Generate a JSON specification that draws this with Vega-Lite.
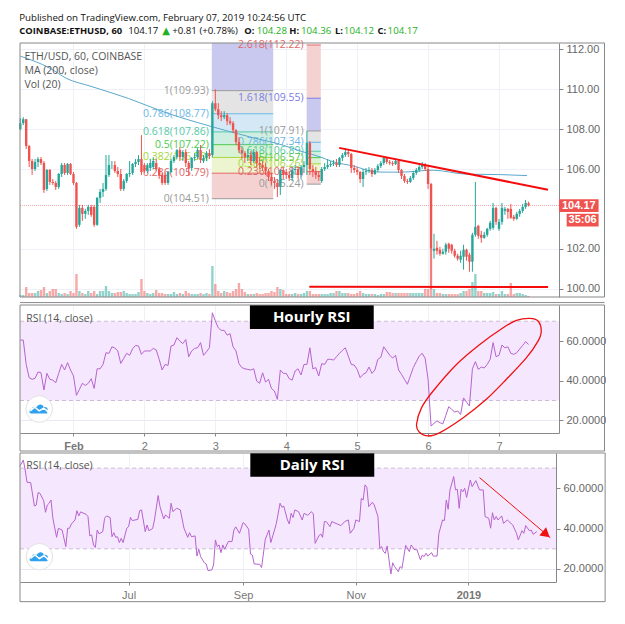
{"$schema":"https://vega.github.io/schema/vega-lite/v6.json","background":"white","padding":{"left":17,"top":13,"right":0,"bottom":0},"spacing":0,
"datasets":{"hourly":[
{"t":6,"o":108.0,"c":108.3,"h":108.55,"l":107.95,"v":2,"r":60.5},{"t":7,"o":108.3,"c":108.5,"h":108.6,"l":108.2,"v":2,"r":60.5},{"t":8,"o":108.5,"c":107.15,"h":108.5,"l":107.0,"v":10,"r":48.2},{"t":9,"o":107.15,"c":106.4,"h":107.2,"l":106.1,"v":4,"r":41.5},{"t":10,"o":106.4,"c":106.0,"h":106.5,"l":105.7,"v":4,"r":40.7},{"t":11,"o":106.0,"c":106.35,"h":106.5,"l":105.9,"v":4,"r":41.2},{"t":12,"o":106.35,"c":106.5,"h":106.6,"l":106.1,"v":6,"r":44.4},{"t":13,"o":106.5,"c":106.3,"h":106.6,"l":106.2,"v":7,"r":44},{"t":14,"o":106.3,"c":104.95,"h":106.4,"l":104.8,"v":10,"r":35.3},{"t":15,"o":105.0,"c":105.95,"h":106.0,"l":104.9,"v":4,"r":43.7},{"t":16,"o":105.95,"c":105.35,"h":106.0,"l":105.2,"v":6,"r":40.7},{"t":17,"o":105.35,"c":105.3,"h":105.5,"l":105.2,"v":8,"r":40.3},{"t":18,"o":105.3,"c":105.1,"h":105.4,"l":104.95,"v":8,"r":39},{"t":19,"o":105.1,"c":105.75,"h":105.8,"l":105.0,"v":4,"r":43.7},{"t":20,"o":105.75,"c":106.2,"h":106.3,"l":105.6,"v":3,"r":48.2},{"t":21,"o":106.2,"c":105.8,"h":106.3,"l":105.7,"v":4,"r":45.4},{"t":22,"o":105.8,"c":106.25,"h":106.3,"l":105.7,"v":3,"r":49.1},{"t":23,"o":106.25,"c":105.75,"h":106.3,"l":105.7,"v":6,"r":45.4},{"t":24,"o":105.75,"c":105.3,"h":105.85,"l":105.2,"v":4,"r":42.4},{"t":25,"o":105.3,"c":103.1,"h":105.35,"l":103.0,"v":23,"r":32.6},{"t":26,"o":103.2,"c":104.05,"h":104.2,"l":103.1,"v":6,"r":35.6},{"t":27,"o":104.05,"c":103.75,"h":104.2,"l":103.4,"v":4,"r":38.7},{"t":28,"o":103.75,"c":103.9,"h":104.0,"l":103.5,"v":3,"r":37.6},{"t":29,"o":103.9,"c":104.1,"h":104.2,"l":103.7,"v":6,"r":38.7},{"t":30,"o":104.1,"c":103.7,"h":104.2,"l":103.6,"v":4,"r":41},{"t":31,"o":104.1,"c":103.2,"h":104.2,"l":103.1,"v":6,"r":36.1},{"t":32,"o":103.2,"c":104.55,"h":104.6,"l":103.15,"v":3,"r":46},{"t":33,"o":104.55,"c":104.85,"h":105.0,"l":104.3,"v":6,"r":46},{"t":34,"o":104.85,"c":105.0,"h":105.3,"l":104.6,"v":6,"r":48.2},{"t":35,"o":105.0,"c":105.7,"h":106.7,"l":104.9,"v":11,"r":54.1},{"t":36,"o":105.7,"c":106.2,"h":106.7,"l":105.6,"v":6,"r":53.8},{"t":37,"o":106.2,"c":106.2,"h":106.4,"l":106.0,"v":4,"r":57.1},{"t":38,"o":106.2,"c":105.9,"h":106.4,"l":105.8,"v":4,"r":56.5},{"t":39,"o":105.9,"c":105.75,"h":106.1,"l":105.6,"v":5,"r":55},{"t":40,"o":105.75,"c":105.0,"h":106.0,"l":104.9,"v":5,"r":48.7},{"t":41,"o":105.0,"c":105.4,"h":105.5,"l":104.9,"v":6,"r":51.3},{"t":42,"o":105.4,"c":105.75,"h":105.8,"l":105.3,"v":4,"r":53.8},{"t":43,"o":105.75,"c":105.8,"h":106.4,"l":105.6,"v":3,"r":52.8},{"t":44,"o":105.8,"c":106.25,"h":106.3,"l":105.7,"v":3,"r":56.1},{"t":45,"o":106.25,"c":106.35,"h":106.5,"l":106.1,"v":3,"r":57.8},{"t":46,"o":106.35,"c":106.5,"h":106.7,"l":106.2,"v":5,"r":57.5},{"t":47,"o":106.5,"c":105.85,"h":107.7,"l":105.7,"v":18,"r":53.3},{"t":48,"o":106.2,"c":105.9,"h":106.3,"l":105.8,"v":6,"r":55},{"t":49,"o":105.9,"c":106.2,"h":106.3,"l":105.8,"v":4,"r":55},{"t":50,"o":106.05,"c":106.3,"h":106.5,"l":105.9,"v":3,"r":55},{"t":51,"o":106.1,"c":106.4,"h":106.6,"l":106.0,"v":4,"r":56.3},{"t":52,"o":106.3,"c":106.0,"h":106.5,"l":105.9,"v":7,"r":55.5},{"t":53,"o":106.0,"c":105.7,"h":106.1,"l":105.5,"v":4,"r":50.8},{"t":54,"o":105.7,"c":105.3,"h":105.8,"l":105.2,"v":4,"r":45.4},{"t":55,"o":105.7,"c":105.3,"h":105.8,"l":105.2,"v":3,"r":48.2},{"t":56,"o":105.3,"c":105.85,"h":105.9,"l":105.2,"v":3,"r":47.7},{"t":57,"o":105.85,"c":106.4,"h":106.5,"l":105.8,"v":3,"r":57.5},{"t":58,"o":106.4,"c":106.6,"h":106.7,"l":106.3,"v":5,"r":58},{"t":59,"o":106.6,"c":106.95,"h":107.0,"l":106.5,"v":3,"r":61.7},{"t":60,"o":106.95,"c":106.6,"h":107.1,"l":106.4,"v":4,"r":60},{"t":61,"o":106.6,"c":106.85,"h":106.95,"l":106.4,"v":3,"r":58.7},{"t":62,"o":106.85,"c":106.3,"h":107.0,"l":106.1,"v":6,"r":60.8},{"t":63,"o":106.3,"c":106.05,"h":106.4,"l":105.7,"v":4,"r":52.1},{"t":64,"o":106.05,"c":106.55,"h":106.6,"l":105.9,"v":3,"r":55},{"t":65,"o":106.55,"c":106.6,"h":106.8,"l":106.4,"v":3,"r":56.3},{"t":66,"o":106.6,"c":106.95,"h":107.05,"l":106.5,"v":3,"r":56.6},{"t":67,"o":106.95,"c":106.45,"h":107.2,"l":106.3,"v":4,"r":59.2},{"t":68,"o":106.4,"c":106.55,"h":106.7,"l":106.3,"v":3,"r":52.8},{"t":69,"o":106.55,"c":106.8,"h":106.9,"l":106.4,"v":4,"r":54.6},{"t":70,"o":106.8,"c":106.65,"h":107.0,"l":106.5,"v":3,"r":56.6},{"t":71,"o":106.7,"c":109.3,"h":109.4,"l":106.6,"v":31,"r":74.3},{"t":72,"o":109.3,"c":109.0,"h":110.0,"l":108.9,"v":13,"r":70.1},{"t":73,"o":109.0,"c":108.7,"h":109.3,"l":108.5,"v":6,"r":66.7},{"t":74,"o":108.7,"c":108.6,"h":108.9,"l":108.4,"v":4,"r":65.4},{"t":75,"o":108.6,"c":108.7,"h":108.9,"l":108.5,"v":6,"r":65.4},{"t":76,"o":108.7,"c":108.4,"h":108.8,"l":108.2,"v":5,"r":63},{"t":77,"o":108.4,"c":108.3,"h":108.6,"l":108.2,"v":4,"r":63.7},{"t":78,"o":108.3,"c":107.95,"h":108.4,"l":107.8,"v":6,"r":57.1},{"t":79,"o":107.95,"c":107.35,"h":108.0,"l":107.2,"v":8,"r":55},{"t":80,"o":107.35,"c":106.95,"h":107.6,"l":106.8,"v":14,"r":48.6},{"t":81,"o":106.95,"c":106.8,"h":107.1,"l":106.5,"v":8,"r":46.6},{"t":82,"o":106.8,"c":106.6,"h":106.9,"l":106.3,"v":5,"r":46},{"t":83,"o":106.6,"c":106.7,"h":107.0,"l":106.4,"v":3,"r":45.7},{"t":84,"o":106.7,"c":106.4,"h":106.9,"l":106.2,"v":3,"r":45.4},{"t":85,"o":106.4,"c":106.85,"h":107.0,"l":106.3,"v":3,"r":46},{"t":86,"o":106.85,"c":106.3,"h":106.9,"l":106.1,"v":4,"r":39.8},{"t":87,"o":106.3,"c":106.2,"h":106.6,"l":106.0,"v":3,"r":38.7},{"t":88,"o":106.2,"c":106.1,"h":106.4,"l":105.9,"v":3,"r":44},{"t":89,"o":106.1,"c":105.9,"h":106.3,"l":105.7,"v":4,"r":39.3},{"t":90,"o":105.9,"c":105.6,"h":106.0,"l":105.4,"v":4,"r":40.7},{"t":91,"o":105.6,"c":105.4,"h":105.8,"l":105.2,"v":6,"r":36},{"t":92,"o":105.4,"c":105.3,"h":105.6,"l":105.0,"v":5,"r":34.8},{"t":93,"o":105.3,"c":105.1,"h":105.5,"l":104.6,"v":10,"r":30.6},{"t":94,"o":105.1,"c":105.95,"h":106.0,"l":104.7,"v":8,"r":45.4},{"t":95,"o":105.95,"c":105.7,"h":106.05,"l":105.5,"v":7,"r":43.7},{"t":96,"o":105.85,"c":105.7,"h":106.0,"l":105.5,"v":3,"r":43.7},{"t":97,"o":105.7,"c":105.55,"h":105.9,"l":105.4,"v":3,"r":41},{"t":98,"o":105.55,"c":105.95,"h":106.1,"l":105.4,"v":3,"r":40.3},{"t":99,"o":105.95,"c":106.0,"h":106.2,"l":105.7,"v":4,"r":44.9},{"t":100,"o":106.0,"c":105.7,"h":106.1,"l":105.5,"v":3,"r":46},{"t":101,"o":105.7,"c":106.1,"h":106.2,"l":105.5,"v":3,"r":42.9},{"t":102,"o":106.1,"c":106.2,"h":106.4,"l":105.8,"v":4,"r":48.2},{"t":103,"o":106.2,"c":107.3,"h":107.9,"l":105.7,"v":6,"r":48.2},{"t":104,"o":107.3,"c":106.0,"h":107.4,"l":105.7,"v":6,"r":56.6},{"t":105,"o":106.0,"c":105.85,"h":106.2,"l":105.6,"v":3,"r":46},{"t":106,"o":105.85,"c":105.7,"h":106.1,"l":105.5,"v":3,"r":46.6},{"t":107,"o":105.7,"c":105.6,"h":105.9,"l":105.4,"v":3,"r":42.4},{"t":108,"o":105.4,"c":106.0,"h":106.1,"l":105.3,"v":3,"r":48.6},{"t":109,"o":106.0,"c":106.1,"h":106.3,"l":105.9,"v":3,"r":48.2},{"t":110,"o":106.1,"c":106.2,"h":106.5,"l":106.0,"v":3,"r":50.8},{"t":111,"o":106.2,"c":106.25,"h":106.4,"l":106.1,"v":4,"r":50.8},{"t":112,"o":106.25,"c":106.3,"h":106.45,"l":106.15,"v":4,"r":50.4},{"t":113,"o":106.3,"c":106.2,"h":106.5,"l":106.1,"v":6,"r":52.1},{"t":114,"o":106.2,"c":106.55,"h":106.6,"l":106.1,"v":6,"r":53.8},{"t":115,"o":106.55,"c":106.7,"h":106.8,"l":106.4,"v":4,"r":55.3},{"t":116,"o":106.7,"c":106.85,"h":107.05,"l":106.6,"v":4,"r":56.6},{"t":117,"o":106.85,"c":106.75,"h":106.95,"l":106.6,"v":4,"r":52.4},{"t":118,"o":106.75,"c":106.05,"h":106.8,"l":105.8,"v":3,"r":48.2},{"t":119,"o":106.05,"c":105.95,"h":106.2,"l":105.8,"v":3,"r":47.9},{"t":120,"o":105.95,"c":105.85,"h":106.1,"l":105.7,"v":4,"r":45.7},{"t":121,"o":105.85,"c":105.5,"h":105.9,"l":105.3,"v":6,"r":41.5},{"t":122,"o":105.5,"c":105.85,"h":106.0,"l":105.1,"v":4,"r":43.2},{"t":123,"o":105.85,"c":105.9,"h":106.05,"l":105.7,"v":3,"r":44},{"t":124,"o":105.9,"c":105.95,"h":106.1,"l":105.8,"v":3,"r":46.9},{"t":125,"o":105.95,"c":105.75,"h":106.05,"l":105.6,"v":3,"r":43.7},{"t":126,"o":105.75,"c":105.95,"h":106.05,"l":105.7,"v":3,"r":45.4},{"t":127,"o":105.95,"c":106.15,"h":106.25,"l":105.85,"v":2,"r":50.8},{"t":128,"o":106.15,"c":106.3,"h":106.4,"l":106.05,"v":3,"r":51.8},{"t":129,"o":106.3,"c":106.55,"h":106.6,"l":106.2,"v":3,"r":57.1},{"t":130,"o":106.55,"c":106.35,"h":106.6,"l":106.25,"v":5,"r":55},{"t":131,"o":106.35,"c":106.3,"h":106.45,"l":106.2,"v":5,"r":52.9},{"t":132,"o":106.3,"c":106.25,"h":106.4,"l":106.15,"v":4,"r":51.4},{"t":133,"o":106.25,"c":106.4,"h":106.5,"l":106.2,"v":4,"r":52.8},{"t":134,"o":106.4,"c":105.95,"h":106.45,"l":105.8,"v":4,"r":45.4},{"t":135,"o":105.95,"c":105.65,"h":106.0,"l":105.5,"v":4,"r":43.2},{"t":136,"o":105.65,"c":105.4,"h":105.75,"l":105.3,"v":4,"r":40.7},{"t":137,"o":105.4,"c":105.35,"h":105.5,"l":105.25,"v":4,"r":38.2},{"t":138,"o":105.35,"c":105.55,"h":105.65,"l":105.3,"v":4,"r":42.4},{"t":139,"o":105.55,"c":105.8,"h":105.9,"l":105.45,"v":4,"r":46.6},{"t":140,"o":105.8,"c":105.95,"h":106.05,"l":105.7,"v":4,"r":49.6},{"t":141,"o":105.95,"c":106.1,"h":106.2,"l":105.85,"v":4,"r":52.4},{"t":142,"o":106.1,"c":106.2,"h":106.35,"l":106.0,"v":4,"r":53.8},{"t":143,"o":106.2,"c":106.0,"h":106.3,"l":105.9,"v":8,"r":51.3},{"t":144,"o":106.0,"c":105.25,"h":106.2,"l":105.0,"v":8,"r":40.7},{"t":145,"o":105.25,"c":102.0,"h":105.3,"l":100.0,"v":48,"r":17.1},{"t":146,"o":101.9,"c":102.0,"h":102.75,"l":101.5,"v":8,"r":18.5},{"t":147,"o":102.05,"c":101.9,"h":102.4,"l":101.7,"v":4,"r":19.7},{"t":148,"o":101.95,"c":101.75,"h":102.1,"l":101.65,"v":4,"r":18.8},{"t":149,"o":101.75,"c":101.85,"h":102.0,"l":101.7,"v":3,"r":18.2},{"t":150,"o":101.85,"c":102.2,"h":102.3,"l":101.7,"v":3,"r":22.5},{"t":151,"o":102.25,"c":102.0,"h":102.3,"l":101.8,"v":3,"r":26.9},{"t":152,"o":102.2,"c":101.9,"h":102.25,"l":101.75,"v":3,"r":25.5},{"t":153,"o":101.9,"c":101.65,"h":102.0,"l":101.55,"v":3,"r":24.2},{"t":154,"o":101.65,"c":101.5,"h":101.75,"l":101.4,"v":3,"r":24.7},{"t":155,"o":101.45,"c":101.65,"h":101.9,"l":101.3,"v":4,"r":22.9},{"t":156,"o":101.6,"c":101.95,"h":102.2,"l":100.95,"v":6,"r":31.3},{"t":157,"o":101.95,"c":101.6,"h":102.0,"l":101.4,"v":6,"r":29.2},{"t":158,"o":101.7,"c":101.35,"h":101.8,"l":100.85,"v":8,"r":27.2},{"t":159,"o":101.35,"c":102.7,"h":102.8,"l":100.85,"v":15,"r":46},{"t":160,"o":102.7,"c":103.1,"h":105.35,"l":102.6,"v":23,"r":49.6},{"t":161,"o":103.15,"c":102.65,"h":103.2,"l":102.5,"v":6,"r":45.7},{"t":162,"o":102.7,"c":102.55,"h":102.9,"l":102.3,"v":6,"r":46.9},{"t":163,"o":102.55,"c":102.7,"h":102.85,"l":102.5,"v":4,"r":46.4},{"t":164,"o":102.7,"c":103.0,"h":103.05,"l":102.6,"v":4,"r":48.2},{"t":165,"o":103.0,"c":103.3,"h":103.4,"l":102.9,"v":4,"r":50.8},{"t":166,"o":103.05,"c":104.05,"h":104.3,"l":102.95,"v":5,"r":59.2},{"t":167,"o":104.05,"c":103.35,"h":104.1,"l":103.2,"v":3,"r":52.1},{"t":168,"o":103.0,"c":103.35,"h":103.5,"l":102.9,"v":3,"r":52.8},{"t":169,"o":103.35,"c":104.05,"h":104.3,"l":103.2,"v":6,"r":58},{"t":170,"o":103.9,"c":104.0,"h":104.1,"l":103.7,"v":3,"r":56.6},{"t":171,"o":104.0,"c":103.85,"h":104.05,"l":103.5,"v":3,"r":57.1},{"t":172,"o":104.0,"c":103.55,"h":104.25,"l":103.5,"v":14,"r":53.8},{"t":173,"o":103.6,"c":103.5,"h":103.7,"l":103.4,"v":3,"r":53.3},{"t":174,"o":103.5,"c":103.75,"h":103.85,"l":103.45,"v":4,"r":54.1},{"t":175,"o":103.75,"c":103.9,"h":104.0,"l":103.6,"v":4,"r":56},{"t":176,"o":103.9,"c":104.1,"h":104.25,"l":103.8,"v":3,"r":57.8},{"t":177,"o":104.1,"c":104.3,"h":104.45,"l":104.0,"v":2,"r":59.7},{"t":178,"o":104.28,"c":104.17,"h":104.36,"l":104.12,"v":1,"r":58.3}
],
"daily":[{"t":-59,"p":70.7},{"t":-57,"p":74},{"t":-56,"p":69.1},{"t":-55,"p":63},{"t":-53,"p":62.8},{"t":-51,"p":51.2},{"t":-50,"p":51.7},{"t":-49,"p":57.9},{"t":-48,"p":57.5},{"t":-46,"p":53.9},{"t":-45,"p":48.1},{"t":-44,"p":51.7},{"t":-43,"p":52.6},{"t":-42,"p":54.2},{"t":-41,"p":45.1},{"t":-39,"p":35.7},{"t":-38,"p":40.2},{"t":-36,"p":39.3},{"t":-34,"p":31.1},{"t":-33,"p":40.2},{"t":-32,"p":40.2},{"t":-31,"p":42.3},{"t":-29,"p":44.3},{"t":-28,"p":48.9},{"t":-27,"p":46.3},{"t":-26,"p":48.3},{"t":-23,"p":47.1},{"t":-22,"p":46},{"t":-21,"p":36.4},{"t":-20,"p":36.9},{"t":-19,"p":31.9},{"t":-18,"p":30.7},{"t":-17,"p":39.3},{"t":-16,"p":37.4},{"t":-14,"p":38.5},{"t":-13,"p":45.1},{"t":-12,"p":46.3},{"t":-10,"p":45.5},{"t":-9,"p":36},{"t":-8,"p":38},{"t":-7,"p":35.7},{"t":-6,"p":36},{"t":-5,"p":33.1},{"t":-4,"p":35.2},{"t":-3,"p":33.1},{"t":-1,"p":40.2},{"t":0,"p":41},{"t":1,"p":45.6},{"t":2,"p":44},{"t":5,"p":44.6},{"t":6,"p":48.9},{"t":7,"p":49.3},{"t":9,"p":38.5},{"t":10,"p":41.8},{"t":11,"p":39},{"t":13,"p":40},{"t":14,"p":44.3},{"t":16,"p":56.4},{"t":17,"p":50.9},{"t":19,"p":44.8},{"t":20,"p":46.8},{"t":22,"p":45.1},{"t":23,"p":52.6},{"t":24,"p":48.4},{"t":26,"p":50.1},{"t":28,"p":49.3},{"t":30,"p":40.2},{"t":32,"p":35.7},{"t":33,"p":38},{"t":34,"p":36},{"t":36,"p":36.4},{"t":37,"p":26.4},{"t":38,"p":29.8},{"t":39,"p":26.1},{"t":41,"p":23.1},{"t":42,"p":22.5},{"t":43,"p":19.2},{"t":45,"p":19.5},{"t":46,"p":22},{"t":47,"p":34.4},{"t":48,"p":31.1},{"t":49,"p":31.9},{"t":50,"p":28.1},{"t":51,"p":31.9},{"t":52,"p":29.8},{"t":54,"p":33.6},{"t":56,"p":33.6},{"t":57,"p":39.3},{"t":58,"p":40.9},{"t":60,"p":37.7},{"t":62,"p":43},{"t":63,"p":42.3},{"t":65,"p":39.7},{"t":66,"p":27.4},{"t":67,"p":26.9},{"t":68,"p":22.5},{"t":71,"p":22.3},{"t":72,"p":20.7},{"t":74,"p":34.7},{"t":76,"p":39.3},{"t":77,"p":33.1},{"t":79,"p":39.3},{"t":80,"p":42.6},{"t":82,"p":52.6},{"t":83,"p":50.6},{"t":84,"p":51.2},{"t":86,"p":44.3},{"t":87,"p":42.3},{"t":88,"p":47.6},{"t":89,"p":45.5},{"t":90,"p":49.3},{"t":92,"p":48.4},{"t":94,"p":44.3},{"t":95,"p":47.6},{"t":97,"p":46.6},{"t":99,"p":48.4},{"t":100,"p":47.3},{"t":101,"p":32.7},{"t":103,"p":36.4},{"t":104,"p":37.4},{"t":105,"p":35.7},{"t":106,"p":43.5},{"t":107,"p":43.5},{"t":109,"p":41},{"t":110,"p":43.5},{"t":115,"p":41.5},{"t":117,"p":43.5},{"t":119,"p":44.3},{"t":120,"p":37.7},{"t":122,"p":40.2},{"t":123,"p":44.3},{"t":125,"p":43.5},{"t":126,"p":55},{"t":127,"p":54.2},{"t":128,"p":61.7},{"t":129,"p":60.5},{"t":130,"p":50.9},{"t":132,"p":53.1},{"t":133,"p":51.7},{"t":135,"p":46},{"t":136,"p":30.2},{"t":137,"p":31.1},{"t":138,"p":28.6},{"t":139,"p":27.8},{"t":140,"p":31.4},{"t":141,"p":24.5},{"t":142,"p":17.5},{"t":143,"p":23.1},{"t":144,"p":21.2},{"t":146,"p":18.7},{"t":147,"p":21.2},{"t":148,"p":20.3},{"t":150,"p":31.7},{"t":152,"p":28.6},{"t":153,"p":31.9},{"t":154,"p":30.7},{"t":155,"p":29.4},{"t":156,"p":29.9},{"t":158,"p":24.5},{"t":159,"p":26.9},{"t":160,"p":26.1},{"t":161,"p":27.8},{"t":162,"p":26.4},{"t":164,"p":28.1},{"t":165,"p":26.4},{"t":167,"p":26.4},{"t":168,"p":37.7},{"t":170,"p":44.3},{"t":171,"p":44},{"t":172,"p":54.2},{"t":173,"p":49.6},{"t":174,"p":59.2},{"t":176,"p":65.8},{"t":177,"p":59.2},{"t":178,"p":59.5},{"t":179,"p":50.1},{"t":180,"p":59.5},{"t":181,"p":58.3},{"t":182,"p":60},{"t":183,"p":55.5},{"t":185,"p":64.1},{"t":186,"p":60.8},{"t":188,"p":63.8},{"t":190,"p":59.2},{"t":192,"p":59.2},{"t":193,"p":46},{"t":195,"p":45.1},{"t":196,"p":40.2},{"t":197,"p":47.9},{"t":198,"p":44.3},{"t":199,"p":46},{"t":200,"p":44.3},{"t":202,"p":46.3},{"t":203,"p":42.6},{"t":205,"p":44.3},{"t":208,"p":41.8},{"t":210,"p":37.7},{"t":211,"p":34.4},{"t":213,"p":39},{"t":214,"p":37.7},{"t":215,"p":41.5},{"t":217,"p":39},{"t":218,"p":39.3},{"t":219,"p":37.2},{"t":221,"p":38.5}]
},
"vconcat":[
{"width":539,"height":254,"view":{"stroke":null},
"resolve":{"scale":{"y":"independent"},"axis":{"y":"independent"}},
"layer":[
{"data":{"name":"hourly"},"mark":{"type":"bar","orient":"vertical","size":2.4,"opacity":0.5},"encoding":{"x":{"field":"t","type":"quantitative","scale":{"domain":[5.9,188.3],"nice":false,"padding":0},"axis":{"title":null,"values":[24,48,72,96,120,144,168],"labels":false,"ticks":false,"domain":false,"grid":true,"gridColor":"#eef2f8"}},"y":{"field":"v","type":"quantitative","scale":{"domain":[0,254],"nice":false},"axis":null},"color":{"condition":{"test":"datum.c>=datum.o","value":"#26a69a"},"value":"#ef5350"}}},
{"encoding":{"x":{"field":"t","type":"quantitative","scale":{"domain":[5.9,188.3],"nice":false,"padding":0},"axis":{"title":null,"values":[24,48,72,96,120,144,168],"labels":false,"ticks":false,"domain":false,"grid":true,"gridColor":"#eef2f8"}},"y":{"field":"p","type":"quantitative","scale":{"domain":[99.58,112.32],"nice":false,"zero":false},"axis":{"title":null,"orient":"right","values":[100,102,106,108,110,112],"format":".2f","grid":true,"gridColor":"#eef2f8","domainColor":"#888888","tickColor":"#888888","tickSize":4,"labelColor":"#666666","labelFont":"Liberation Sans","labelFontSize":11,"labelPadding":3}},"color":{"field":"k","type":"nominal","legend":null,"scale":{"domain":["bLav","bPink","bGrey","bBlue","bTeal","bGreen","bYG","lGrey","lPurple","lBlue","lTeal","lGreen","lYG","lRed","tBlack","tGreen","tGrey"],"range":["#c9c9ef","#f5d2d2","#e4e4e4","#d4e9f5","#cfeee2","#d9f2d4","#ecf5cf","#9a9a9a","#7c7ce0","#6cb6e6","#55c9a6","#4cc94c","#a8d63a","#e26666","#111111","#22b122","#555555"]}}},
"layer":[
{"data":{"values":[{"t":70.8,"t2":91.6,"p":109.93,"p2":112.32,"k":"bLav"},{"t":70.8,"t2":91.6,"p":108.77,"p2":109.93,"k":"bGrey"},{"t":70.8,"t2":91.6,"p":107.86,"p2":108.77,"k":"bBlue"},{"t":70.8,"t2":91.6,"p":107.22,"p2":107.86,"k":"bTeal"},{"t":70.8,"t2":91.6,"p":106.58,"p2":107.22,"k":"bGreen"},{"t":70.8,"t2":91.6,"p":105.79,"p2":106.58,"k":"bYG"},{"t":70.8,"t2":91.6,"p":104.51,"p2":105.79,"k":"bPink"},{"t":102.9,"t2":107.7,"p":109.55,"p2":112.22,"k":"bPink"},{"t":102.9,"t2":107.7,"p":107.91,"p2":109.55,"k":"bLav"},{"t":102.9,"t2":107.7,"p":107.34,"p2":107.91,"k":"bGrey"},{"t":102.9,"t2":107.7,"p":106.89,"p2":107.34,"k":"bBlue"},{"t":102.9,"t2":107.7,"p":106.57,"p2":106.89,"k":"bTeal"},{"t":102.9,"t2":107.7,"p":106.26,"p2":106.57,"k":"bGreen"},{"t":102.9,"t2":107.7,"p":105.87,"p2":106.26,"k":"bYG"},{"t":102.9,"t2":107.7,"p":105.24,"p2":105.87,"k":"bPink"}]},"mark":{"type":"rect"},"encoding":{"x2":{"field":"t2"},"y2":{"field":"p2"}}},
{"data":{"values":[{"t":70.8,"t2":91.6,"p":109.93,"k":"lGrey"},{"t":70.8,"t2":91.6,"p":108.77,"k":"lBlue"},{"t":70.8,"t2":91.6,"p":107.86,"k":"lTeal"},{"t":70.8,"t2":91.6,"p":107.22,"k":"lGreen"},{"t":70.8,"t2":91.6,"p":106.58,"k":"lYG"},{"t":70.8,"t2":91.6,"p":105.79,"k":"lRed"},{"t":70.8,"t2":91.6,"p":104.51,"k":"lGrey"},{"t":102.9,"t2":107.7,"p":112.22,"k":"lRed"},{"t":102.9,"t2":107.7,"p":109.55,"k":"lPurple"},{"t":102.9,"t2":107.7,"p":107.91,"k":"lGrey"},{"t":102.9,"t2":107.7,"p":107.34,"k":"lBlue"},{"t":102.9,"t2":107.7,"p":106.89,"k":"lTeal"},{"t":102.9,"t2":107.7,"p":106.57,"k":"lGreen"},{"t":102.9,"t2":107.7,"p":106.26,"k":"lYG"},{"t":102.9,"t2":107.7,"p":105.87,"k":"lRed"},{"t":102.9,"t2":107.7,"p":105.24,"k":"lGrey"}]},"mark":{"type":"rule","strokeWidth":1},"encoding":{"x2":{"field":"t2"}}},
{"data":{"values":[{"t":70.8,"p":109.93,"label":"1(109.93)","k":"lGrey"},{"t":70.8,"p":108.77,"label":"0.786(108.77)","k":"lBlue"},{"t":70.8,"p":107.86,"label":"0.618(107.86)","k":"lTeal"},{"t":70.8,"p":107.22,"label":"0.5(107.22)","k":"lGreen"},{"t":70.8,"p":106.58,"label":"0.382(106.58)","k":"lYG"},{"t":70.8,"p":105.79,"label":"0.236(105.79)","k":"lRed"},{"t":70.8,"p":104.51,"label":"0(104.51)","k":"lGrey"},{"t":102.9,"p":112.22,"label":"2.618(112.22)","k":"lRed"},{"t":102.9,"p":109.55,"label":"1.618(109.55)","k":"lPurple"},{"t":102.9,"p":107.91,"label":"1(107.91)","k":"lGrey"},{"t":102.9,"p":107.34,"label":"0.786(107.34)","k":"lBlue"},{"t":102.9,"p":106.89,"label":"0.618(106.89)","k":"lTeal"},{"t":102.9,"p":106.57,"label":"0.5(106.57)","k":"lGreen"},{"t":102.9,"p":106.26,"label":"0.382(106.26)","k":"lYG"},{"t":102.9,"p":105.87,"label":"0.236(105.87)","k":"lRed"},{"t":102.9,"p":105.24,"label":"0(105.24)","k":"lGrey"}]},"mark":{"type":"text","align":"right","dx":-3,"font":"Open Sans","fontSize":10.5},"encoding":{"text":{"field":"label"}}},
{"data":{"values":[{"t":5.9,"t2":188.3,"p":104.17}]},"mark":{"type":"rule","strokeWidth":1,"strokeDash":[1,1]},"encoding":{"x2":{"field":"t2"},"color":{"value":"#f3a9a9"}}},
{"data":{"values":[{"t":6,"p":111.66},{"t":16.1,"p":111.05},{"t":21.7,"p":110.54},{"t":29.6,"p":110.16},{"t":42.6,"p":109.54},{"t":54.4,"p":108.87},{"t":70.2,"p":108.15},{"t":83.7,"p":107.61},{"t":95,"p":107.19},{"t":100.6,"p":106.91},{"t":107.4,"p":106.61},{"t":111.9,"p":106.36},{"t":118.7,"p":106.15},{"t":126.6,"p":105.85},{"t":134.4,"p":105.84},{"t":145.7,"p":105.94},{"t":157,"p":105.74},{"t":168.2,"p":105.72},{"t":177.5,"p":105.67}]},"mark":{"type":"line","strokeWidth":1,"interpolate":"monotone"},"encoding":{"color":{"value":"#5aa9cc"}}},
{"data":{"name":"hourly"},"mark":{"type":"rule","strokeWidth":1},"encoding":{"y":{"field":"l","type":"quantitative","scale":{"domain":[99.58,112.32],"nice":false,"zero":false},"axis":{"title":null,"orient":"right","values":[100,102,106,108,110,112],"format":".2f","grid":true,"gridColor":"#eef2f8","domainColor":"#888888","tickColor":"#888888","tickSize":4,"labelColor":"#666666","labelFont":"Liberation Sans","labelFontSize":11,"labelPadding":3}},"y2":{"field":"h"},"color":{"condition":{"test":"datum.c>=datum.o","value":"#26a69a"},"value":"#ef5350"}}},
{"data":{"name":"hourly"},"mark":{"type":"bar","orient":"vertical","size":2.4},"encoding":{"y":{"field":"o","type":"quantitative","scale":{"domain":[99.58,112.32],"nice":false,"zero":false},"axis":{"title":null,"orient":"right","values":[100,102,106,108,110,112],"format":".2f","grid":true,"gridColor":"#eef2f8","domainColor":"#888888","tickColor":"#888888","tickSize":4,"labelColor":"#666666","labelFont":"Liberation Sans","labelFontSize":11,"labelPadding":3}},"y2":{"field":"c"},"color":{"condition":{"test":"datum.c>=datum.o","value":"#26a69a"},"value":"#ef5350"}}},
{"data":{"values":[{"t":113.9,"p":107.06,"g":"resistance"},{"t":184.6,"p":104.96,"g":"resistance"},{"t":103.8,"p":100.1,"g":"support"},{"t":184.6,"p":100.08,"g":"support"}]},"mark":{"type":"line","strokeWidth":2},"encoding":{"detail":{"field":"g"},"color":{"value":"#f40c0c"}}},
{"data":{"values":[{"t":7.4,"p":111.6,"label":"ETH/USD, 60, COINBASE"},{"t":7.4,"p":110.9,"label":"MA (200, close)"},{"t":7.4,"p":110.2,"label":"Vol (20)"}]},"mark":{"type":"text","align":"left","font":"Open Sans","fontSize":10.5},"encoding":{"text":{"field":"label"},"color":{"value":"#555555"}}},
{"data":{"values":[{"t":5.64,"p":113.57,"label":"Published on TradingView.com, February 07, 2019 10:24:56 UTC","k":"tBlack"},{"t":42.5,"p":112.9,"label":"104.17","k":"tBlack"},{"t":57.4,"p":112.9,"label":"+0.81 (+0.78%)","k":"tBlack"},{"t":86,"p":112.9,"label":"104.28","k":"tGreen"},{"t":101,"p":112.9,"label":"104.36","k":"tGreen"},{"t":115.5,"p":112.9,"label":"104.12","k":"tGreen"},{"t":130.3,"p":112.9,"label":"104.17","k":"tGreen"}]},"mark":{"type":"text","align":"left","font":"Open Sans","fontSize":9.7},"encoding":{"text":{"field":"label"}}},
{"data":{"values":[{"t":54,"p":112.9,"label":"▲","k":"tGreen"}]},"mark":{"type":"text","align":"left","font":"DejaVu Sans","fontSize":10},"encoding":{"text":{"field":"label"}}},
{"data":{"values":[{"t":5.64,"p":112.9,"label":"COINBASE:ETHUSD, 60","k":"tBlack"},{"t":81.8,"p":112.9,"label":"O:","k":"tBlack"},{"t":97,"p":112.9,"label":"H:","k":"tBlack"},{"t":112.5,"p":112.9,"label":"L:","k":"tBlack"},{"t":126.9,"p":112.9,"label":"C:","k":"tBlack"}]},"mark":{"type":"text","align":"left","font":"Open Sans","fontSize":9.4,"fontWeight":"bold"},"encoding":{"text":{"field":"label"}}},
{"data":{"values":[{"t":188.3,"t2":201.7,"p":103.84,"p2":104.48},{"t":190.9,"t2":201.7,"p":103.12,"p2":103.76}]},"mark":{"type":"rect"},"encoding":{"x2":{"field":"t2"},"y2":{"field":"p2"},"color":{"value":"#ef5350"}}},
{"data":{"values":[{"t":195,"p":104.16,"label":"104.17"},{"t":196.3,"p":103.44,"label":"35:06"}]},"mark":{"type":"text","font":"Liberation Sans","fontSize":11,"fontWeight":"bold"},"encoding":{"text":{"field":"label"},"color":{"value":"white"}}},
{"data":{"values":[{"t":5.9,"t2":203.7,"p":99.58,"p2":112.32}]},"mark":{"type":"rect","fillOpacity":0,"strokeWidth":1},"encoding":{"x2":{"field":"t2"},"y2":{"field":"p2"},"color":{"value":"transparent"},"stroke":{"value":"#888888"}}},
{"data":{"values":[{"t":5.9,"t2":203.7,"p":99.3}]},"mark":{"type":"rule","strokeWidth":1},"encoding":{"x2":{"field":"t2"},"color":{"value":"#888888"}}}
]}
]},
{"width":539,"height":128,"view":{"stroke":null},
"encoding":{"x":{"field":"t","type":"quantitative","scale":{"domain":[5.9,188.3],"nice":false},"axis":{"title":null,"values":[24,48,72,96,120,144,168],"labelExpr":"datum.value==24?'Feb':''+datum.value/24","labelFontWeight":{"condition":{"test":"datum.value==24","value":"bold"},"value":"normal"},"grid":true,"gridColor":"#eef2f8","domainColor":"#888888","tickColor":"#888888","tickSize":3,"labelColor":"#777777","labelFont":"Liberation Sans","labelFontSize":11,"labelPadding":4}},"y":{"field":"p","type":"quantitative","scale":{"domain":[13.6,78.2],"nice":false,"zero":false},"axis":{"title":null,"orient":"right","values":[20,40,60],"format":".4f","grid":true,"gridColor":"#e9e8f6","domainColor":"#888888","tickColor":"#888888","tickSize":4,"labelColor":"#666666","labelFont":"Liberation Sans","labelFontSize":11,"labelPadding":3}}},
"layer":[
{"data":{"values":[{"t":5.9,"t2":188.3,"p":30,"p2":70}]},"mark":{"type":"rect","color":"#f5e7fd"},"encoding":{"x2":{"field":"t2"},"y2":{"field":"p2"}}},
{"data":{"values":[{"t":5.9,"t2":188.3,"p":30},{"t":5.9,"t2":188.3,"p":70}]},"mark":{"type":"rule","color":"#cdbcd6","strokeDash":[4,3],"strokeWidth":1},"encoding":{"x2":{"field":"t2"}}},
{"data":{"name":"hourly"},"mark":{"type":"line","color":"#b763cf","strokeWidth":1},"encoding":{"y":{"field":"r","type":"quantitative","scale":{"domain":[13.6,78.2],"nice":false,"zero":false},"axis":{"title":null,"orient":"right","values":[20,40,60],"format":".4f","grid":true,"gridColor":"#e9e8f6","domainColor":"#888888","tickColor":"#888888","tickSize":4,"labelColor":"#666666","labelFont":"Liberation Sans","labelFontSize":11,"labelPadding":3}}}},
{"data":{"values":[{"t":178.4,"p":71.4,"i":1},{"t":181.2,"p":70.1,"i":2},{"t":182.3,"p":65,"i":3},{"t":181.2,"p":60,"i":4},{"t":177.3,"p":51.6,"i":5},{"t":170.5,"p":40.7,"i":6},{"t":163.7,"p":30.6,"i":7},{"t":155.9,"p":21.3,"i":8},{"t":148,"p":13.8,"i":9},{"t":144,"p":12.1,"i":10},{"t":141,"p":14.1,"i":11},{"t":140.1,"p":18,"i":12},{"t":141.8,"p":26.4,"i":13},{"t":145.7,"p":34.8,"i":14},{"t":153.6,"p":48.2,"i":15},{"t":161.5,"p":58.3,"i":16},{"t":169.4,"p":66.7,"i":17},{"t":173.9,"p":70.4,"i":18}]},"mark":{"type":"line","color":"#f01010","strokeWidth":1.3,"interpolate":"cardinal-closed"},"encoding":{"order":{"field":"i"}}},
{"data":{"values":[{"t":83.7,"t2":125.6,"p":66.06,"p2":78.2}]},"mark":{"type":"rect","color":"#000000"},"encoding":{"x2":{"field":"t2"},"y2":{"field":"p2"}}},
{"data":{"values":[{"t":104.6,"p":72.1,"label":"Hourly RSI"}]},"mark":{"type":"text","color":"white","font":"Open Sans","fontWeight":"bold","fontSize":15},"encoding":{"text":{"field":"label"}}},
{"data":{"values":[{"t":8,"p":71.1,"label":"RSI (14, close)"}]},"mark":{"type":"text","align":"left","color":"#555555","font":"Open Sans","fontSize":10.5},"encoding":{"text":{"field":"label"}}},
{"data":{"values":[{"t":12.4,"p":25.7}]},"mark":{"type":"point","shape":"circle","size":700,"filled":true,"fill":"white","stroke":"#e2e2e2","strokeWidth":1,"opacity":1}},
{"data":{"values":[{"t":12.4,"p":25.7}]},"mark":{"type":"point","shape":"M-0.9,0.5 C-1.2,0.5 -1.1,0 -0.8,0 C-0.8,-0.3 -0.4,-0.3 -0.3,-0.2 C-0.1,-0.6 0.4,-0.6 0.5,-0.2 C0.9,-0.3 1.1,0.1 0.8,0.3 C1,0.4 0.9,0.5 0.8,0.5 Z","size":324,"filled":true,"color":"#2fa1ee","opacity":1}},
{"data":{"values":[{"t":12.4,"p":25.7}]},"mark":{"type":"point","shape":"M-1,0.2 L-0.5,-0.2 L0,0.2 L0.5,-0.1 L1,0.3","size":324,"filled":false,"color":"white","strokeWidth":1.5,"opacity":1}},
{"data":{"values":[{"t":5.9,"t2":203.7,"p":4.5,"p2":78.2}]},"mark":{"type":"rect","fillOpacity":0,"stroke":"#888888","strokeWidth":1},"encoding":{"x2":{"field":"t2"},"y2":{"field":"p2"}}}
]},
{"width":536,"height":129,"view":{"stroke":null},
"encoding":{"x":{"field":"t","type":"quantitative","scale":{"domain":[-58.8,231.4],"nice":false},"axis":{"title":null,"values":[0,62,123,184],"labelExpr":"datum.value==0?'Jul':datum.value==62?'Sep':datum.value==123?'Nov':'2019'","labelFontWeight":{"condition":{"test":"datum.value==184","value":"bold"},"value":"normal"},"grid":true,"gridColor":"#eef2f8","domainColor":"#888888","tickColor":"#888888","tickSize":3,"labelColor":"#777777","labelFont":"Liberation Sans","labelFontSize":11,"labelPadding":4}},"y":{"field":"p","type":"quantitative","scale":{"domain":[13.55,77.5],"nice":false,"zero":false},"axis":{"title":null,"orient":"right","values":[20,40,60],"format":".4f","grid":true,"gridColor":"#e9e8f6","domainColor":"#888888","tickColor":"#888888","tickSize":4,"labelColor":"#666666","labelFont":"Liberation Sans","labelFontSize":11,"labelPadding":3}}},
"layer":[
{"data":{"values":[{"t":-58.8,"t2":231.4,"p":30,"p2":70}]},"mark":{"type":"rect","color":"#f5e7fd"},"encoding":{"x2":{"field":"t2"},"y2":{"field":"p2"}}},
{"data":{"values":[{"t":-58.8,"t2":231.4,"p":30},{"t":-58.8,"t2":231.4,"p":70}]},"mark":{"type":"rule","color":"#cdbcd6","strokeDash":[4,3],"strokeWidth":1},"encoding":{"x2":{"field":"t2"}}},
{"data":{"name":"daily"},"mark":{"type":"line","color":"#b763cf","strokeWidth":1}},
{"data":{"values":[{"t":190,"p":65.3},{"t":228.3,"p":35.5}]},"mark":{"type":"line","color":"#f01010","strokeWidth":1}},
{"data":{"values":[{"t":226.1,"p":37.2}]},"mark":{"type":"point","shape":"triangle-up","filled":true,"color":"#f01010","size":110,"angle":130,"opacity":1}},
{"data":{"values":[{"t":65.9,"t2":133,"p":65.7,"p2":77.5}]},"mark":{"type":"rect","color":"#000000"},"encoding":{"x2":{"field":"t2"},"y2":{"field":"p2"}}},
{"data":{"values":[{"t":99.4,"p":71.6,"label":"Daily RSI"}]},"mark":{"type":"text","color":"white","font":"Open Sans","fontWeight":"bold","fontSize":15},"encoding":{"text":{"field":"label"}}},
{"data":{"values":[{"t":-55.4,"p":71.05,"label":"RSI (14, close)"}]},"mark":{"type":"text","align":"left","color":"#555555","font":"Open Sans","fontSize":10.5},"encoding":{"text":{"field":"label"}}},
{"data":{"values":[{"t":-48.3,"p":26.1}]},"mark":{"type":"point","shape":"circle","size":700,"filled":true,"fill":"white","stroke":"#e2e2e2","strokeWidth":1,"opacity":1}},
{"data":{"values":[{"t":-48.3,"p":26.1}]},"mark":{"type":"point","shape":"M-0.9,0.5 C-1.2,0.5 -1.1,0 -0.8,0 C-0.8,-0.3 -0.4,-0.3 -0.3,-0.2 C-0.1,-0.6 0.4,-0.6 0.5,-0.2 C0.9,-0.3 1.1,0.1 0.8,0.3 C1,0.4 0.9,0.5 0.8,0.5 Z","size":324,"filled":true,"color":"#2fa1ee","opacity":1}},
{"data":{"values":[{"t":-48.3,"p":26.1}]},"mark":{"type":"point","shape":"M-1,0.2 L-0.5,-0.2 L0,0.2 L0.5,-0.1 L1,0.3","size":324,"filled":false,"color":"white","strokeWidth":1.5,"opacity":1}},
{"data":{"values":[{"t":-58.8,"t2":258,"p":3.8,"p2":77.5}]},"mark":{"type":"rect","fillOpacity":0,"stroke":"#888888","strokeWidth":1},"encoding":{"x2":{"field":"t2"},"y2":{"field":"p2"}}}
]}
]}
